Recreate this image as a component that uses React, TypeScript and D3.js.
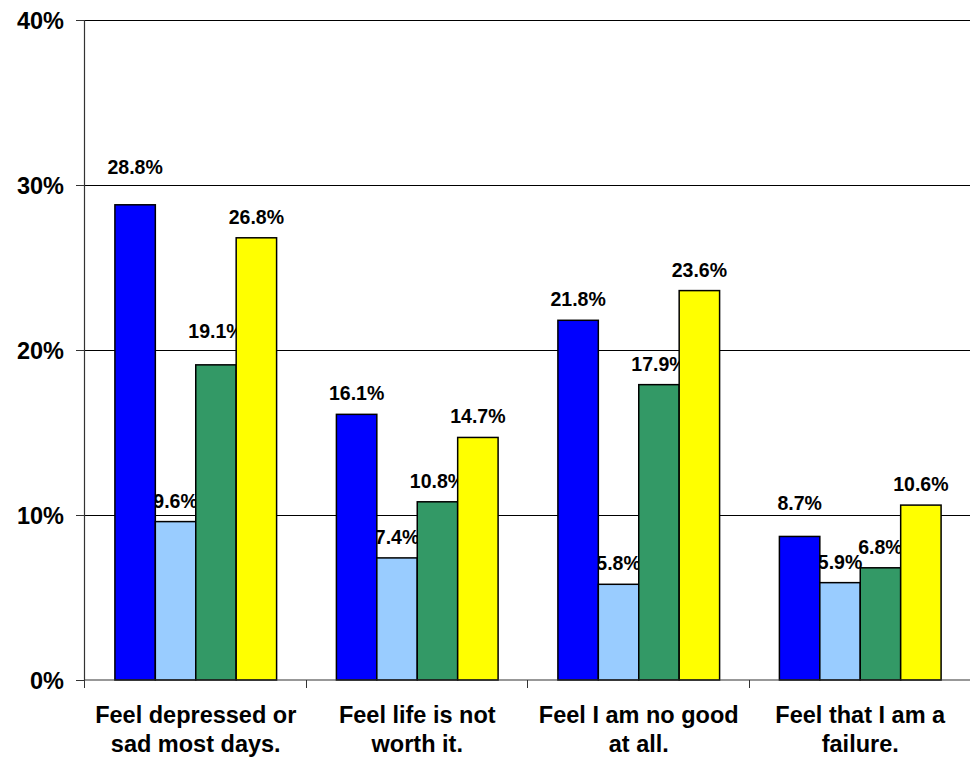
import { useRef, useEffect } from "react";
import * as d3 from "d3";

const CATEGORIES = [
  ["Feel depressed or", "sad most days."],
  ["Feel life is not", "worth it."],
  ["Feel I am no good", "at all."],
  ["Feel that I am a", "failure."],
];

const SERIES_A = [28.8, 16.1, 21.8, 8.7];
const SERIES_B = [9.6, 7.4, 5.8, 5.9];
const SERIES_C = [19.1, 10.8, 17.9, 6.8];
const SERIES_D = [26.8, 14.7, 23.6, 10.6];

const Y_TICKS = [0, 10, 20, 30, 40];

const BAR_COLORS = ["#0000FF", "#99CCFF", "#339966", "#FFFF00"];

// labels that sit higher than the rest in the original chart (series-category)
const LABEL_NUDGE: Record<string, number> = { "0-0": 17, "2-0": 13, "0-3": 12 };

export default function App() {
  const svgRef = useRef<SVGSVGElement>(null);

  useEffect(() => {
    document.body.style.margin = "0";
    if (!svgRef.current) return;
    const svg = d3.select(svgRef.current);
    svg.selectAll("*").remove();

    const W = 970;
    const H = 757;
    const left = 85;
    const right = 971;
    const top = 20;
    const bottom = 680;
    const font = "'Liberation Sans', Arial, sans-serif";

    const series = [SERIES_A, SERIES_B, SERIES_C, SERIES_D];
    const idx = CATEGORIES.map((_, i) => i);

    const x0 = d3.scaleBand<number>().domain(idx).range([left, right]).paddingInner(0.27).paddingOuter(0.135);
    const x1 = d3.scaleBand<number>().domain(series.map((_, i) => i)).range([0, x0.bandwidth()]);
    const y = d3.scaleLinear().domain([0, 40]).range([bottom, top]);
    const catScale = d3.scaleBand<number>().domain(idx).range([left, right]);

    svg.attr("width", W).attr("height", H);

    // gridlines
    Y_TICKS.filter((t) => t > 0).forEach((t) => {
      svg.append("line")
        .attr("x1", left - 1).attr("x2", W)
        .attr("y1", y(t) + 0.5).attr("y2", y(t) + 0.5)
        .attr("stroke", "#000").attr("stroke-width", 1);
    });

    // y axis
    svg.append("line")
      .attr("x1", left - 0.5).attr("x2", left - 0.5)
      .attr("y1", top).attr("y2", bottom)
      .attr("stroke", "#333").attr("stroke-width", 1.2);
    Y_TICKS.forEach((t) => {
      svg.append("line")
        .attr("x1", left - 9).attr("x2", left - 1)
        .attr("y1", y(t) + 0.5).attr("y2", y(t) + 0.5)
        .attr("stroke", "#333");
      svg.append("text")
        .attr("x", 64).attr("y", y(t) + 8.5)
        .attr("text-anchor", "end")
        .attr("font-family", font).attr("font-weight", "bold").attr("font-size", "23.5px")
        .text(`${t}%`);
    });

    // value labels go under the bars, like the original
    series.forEach((vals, s) => {
      vals.forEach((v, c) => {
        const cx = (x0(c) ?? 0) + (x1(s) ?? 0) + x1.bandwidth() / 2;
        const nudge = LABEL_NUDGE[`${s}-${c}`] ?? 0;
        svg.append("text")
          .attr("x", cx).attr("y", y(v) - 14 - nudge)
          .attr("text-anchor", "middle")
          .attr("font-family", font).attr("font-weight", "bold").attr("font-size", "19.5px")
          .text(`${v.toFixed(1)}%`);
      });
    });

    // bars
    series.forEach((vals, s) => {
      svg.append("g")
        .selectAll("rect")
        .data(vals)
        .join("rect")
        .attr("x", (_, c) => (x0(c) ?? 0) + (x1(s) ?? 0))
        .attr("y", (d) => y(d))
        .attr("width", x1.bandwidth())
        .attr("height", (d) => bottom - y(d))
        .attr("fill", BAR_COLORS[s])
        .attr("stroke", "#000")
        .attr("stroke-width", 1.5);
    });

    // x axis
    svg.append("line")
      .attr("x1", left - 1).attr("x2", W)
      .attr("y1", bottom).attr("y2", bottom)
      .attr("stroke", "#333").attr("stroke-width", 1.2);
    idx.forEach((c) => {
      const xs = Math.round(catScale(c) ?? 0) - 0.5;
      svg.append("line")
        .attr("x1", xs).attr("x2", xs)
        .attr("y1", bottom).attr("y2", bottom + 8)
        .attr("stroke", "#333");
      const t = svg.append("text")
        .attr("x", (catScale(c) ?? 0) + catScale.bandwidth() / 2)
        .attr("text-anchor", "middle")
        .attr("font-family", font).attr("font-weight", "bold").attr("font-size", "23.5px");
      CATEGORIES[c].forEach((line, i) => {
        t.append("tspan")
          .attr("x", (catScale(c) ?? 0) + catScale.bandwidth() / 2)
          .attr("y", 723 + i * 29)
          .text(line);
      });
    });
  }, []);

  return <svg ref={svgRef} style={{ display: "block" }} />;
}
